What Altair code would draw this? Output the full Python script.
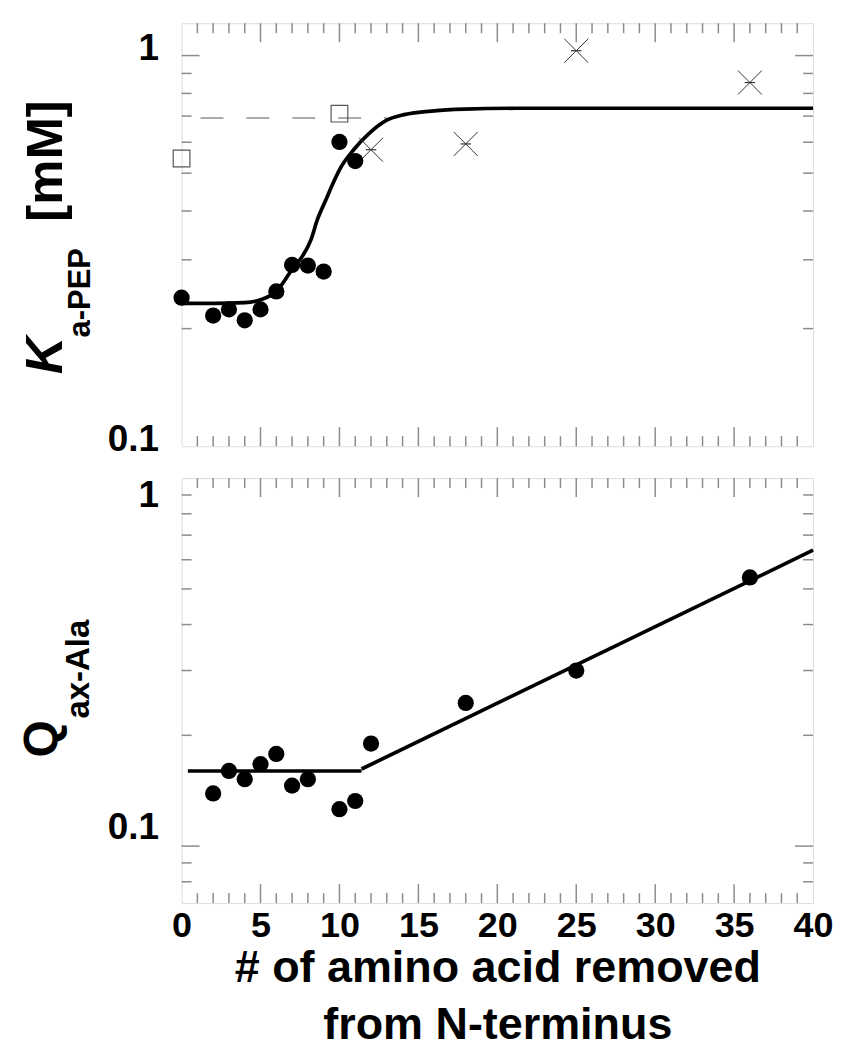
import altair as alt
import pandas as pd

# ---------------- data ----------------
x_major_ticks = [5, 10, 15, 20, 25, 30, 35]
x_minor_ticks = [v for v in range(1, 40) if v % 5 != 0]
x_label_values = [0, 5, 10, 15, 20, 25, 30, 35, 40]

top_major_y = [1.0]
top_minor_y = [0.2, 0.3, 0.4, 0.5, 0.6, 0.7, 0.8, 0.9]
bot_major_y = [0.1]
bot_minor_y = [0.08, 0.09, 0.2, 0.3, 0.4, 0.5, 0.6, 0.7, 0.8, 0.9]
y_label_values = [0.1, 1.0]

# top panel: K a-PEP
k_circle_x = [0, 2, 3, 4, 5, 6, 7, 8, 9, 10, 11]
k_circle_y = [0.240, 0.216, 0.224, 0.210, 0.224, 0.249, 0.291, 0.290, 0.280, 0.601, 0.537]
k_square_x = [0, 10]
k_square_y = [0.545, 0.710]
k_cross_x = [12, 18, 25, 36]
k_cross_y = [0.574, 0.594, 1.029, 0.853]
k_fit_x = [0, 2, 4, 5, 6, 7, 7.5, 8.2, 8.6, 9.15, 9.55, 10, 10.9, 11.9, 13, 14.1, 16, 17.9, 21.2, 40]
k_fit_y = [0.232, 0.232, 0.233, 0.237, 0.249, 0.283, 0.300, 0.338, 0.380, 0.428, 0.467, 0.510,
           0.574, 0.633, 0.683, 0.706, 0.722, 0.729, 0.733, 0.733]
k_dash_x = [1.2, 13.0]
k_dash_y = [0.692, 0.692]

# bottom panel: Q ax-Ala
q_x = [2, 3, 4, 5, 6, 7, 8, 10, 11, 12, 18, 25, 36]
q_y = [0.139, 0.160, 0.152, 0.167, 0.178, 0.146, 0.152, 0.126, 0.1326, 0.190, 0.245, 0.300, 0.537]
q_fit_seg = ["a", "a", "b", "b"]
q_fit_x = [0.4, 11.4, 11.4, 40]
q_fit_y = [0.160, 0.160, 0.162, 0.637]

top_title_parts = ["K", "a-PEP", "[mM]"]
bot_title_parts = ["Q", "ax-Ala"]
x_title = ["# of amino acid removed", "from N-terminus"]

# ---------------- layout / style ----------------
W = 633
H_TOP = 424
H_BOT = 426
FONT = "Liberation Sans"
FRAME = "#8c8c8c"
DOT = 265
LW = 3.7

xscale = alt.Scale(domain=[0, 40], nice=False, zero=False)
yscale_top = alt.Scale(type="log", domain=[0.1, 1.21], nice=False)
yscale_bot = alt.Scale(type="log", domain=[0.07, 1.0], nice=False)


def yaxis(offset):
    return alt.Axis(values=y_label_values, labelExpr="datum.value >= 1 ? '1' : '0.1'",
                    labelFont=FONT, labelFontSize=37, labelFontWeight="bold", labelColor="black",
                    labelPadding=23, labelOffset=offset, ticks=False, tickSize=0, domain=False,
                    grid=False, title=None)


xaxis_bot = alt.Axis(values=x_label_values, format="d", labelFont=FONT, labelFontSize=36,
                     labelFontWeight="bold", labelColor="black", labelPadding=5, labelFlush=False,
                     ticks=False, tickSize=0, domain=False, grid=False,
                     title=x_title, titleFont=FONT, titleFontSize=45, titleFontWeight="bold",
                     titleColor="black", titlePadding=3, titleLineHeight=57)

yaxis_top = yaxis(-7)
yaxis_bot = yaxis({"condition": {"test": "datum.value >= 1", "value": 17}, "value": -19})


def X(xaxis):
    return alt.X("x:Q", scale=xscale, axis=xaxis)


def Y(yscale, yax):
    return alt.Y("y:Q", scale=yscale, axis=yax)


def tick_layers(xaxis, yscale, yax, H, ymajor, yminor):
    layers = []
    for vals, ln in ((x_major_ticks, 19), (x_minor_ticks, 10)):
        d = pd.DataFrame({"x": vals})
        base = alt.Chart(d).mark_rule(color=FRAME, strokeWidth=1.5)
        layers.append(base.encode(x=X(xaxis), y=alt.value(0), y2=alt.value(ln)))
        layers.append(base.encode(x=X(xaxis), y=alt.value(H), y2=alt.value(H - ln)))
    for vals, ln in ((ymajor, 18), (yminor, 10)):
        d = pd.DataFrame({"y": vals})
        base = alt.Chart(d).mark_rule(color=FRAME, strokeWidth=1.5)
        layers.append(base.encode(y=Y(yscale, yax), x=alt.value(0), x2=alt.value(ln)))
        layers.append(base.encode(y=Y(yscale, yax), x=alt.value(W), x2=alt.value(W - ln)))
    return layers


def text_part(df, part, size, x, y, italic=False):
    kw = dict(font=FONT, fontSize=size, fontWeight="bold", angle=270,
              align="left", baseline="alphabetic", color="black")
    if italic:
        kw["fontStyle"] = "italic"
    return alt.Chart(df).transform_filter(alt.datum.t == part).mark_text(**kw).encode(
        text="t:N", x=alt.value(x), y=alt.value(y))


# ---------------- top panel ----------------
XT = X(None)
YT = Y(yscale_top, yaxis_top)

circ_top = alt.Chart(pd.DataFrame({"x": k_circle_x, "y": k_circle_y})).mark_point(
    shape="circle", filled=True, color="black", size=DOT, opacity=1
).encode(x=XT, y=YT)
fit_top = alt.Chart(pd.DataFrame({"x": k_fit_x, "y": k_fit_y})).mark_line(
    color="black", strokeWidth=LW, interpolate="monotone"
).encode(x=XT, y=YT)
dash_top = alt.Chart(pd.DataFrame({"x": k_dash_x, "y": k_dash_y})).mark_line(
    color="#555555", strokeWidth=1, strokeDash=[23, 23]
).encode(x=XT, y=YT)
sq_top = alt.Chart(pd.DataFrame({"x": k_square_x, "y": k_square_y})).mark_point(
    shape="square", filled=False, color="#555555", strokeWidth=1.2, size=280, opacity=1
).encode(x=XT, y=YT)
cross_df = pd.DataFrame({"x": k_cross_x, "y": k_cross_y})
x_top = alt.Chart(cross_df).mark_point(
    shape="M-1,-1L1,1M-1,1L1,-1", filled=False, color="#333333", strokeWidth=1, size=576, opacity=1
).encode(x=XT, y=YT)
xbar_top = alt.Chart(cross_df).mark_point(
    shape="M-1,0L1,0", filled=False, color="#333333", strokeWidth=1.2, size=110, opacity=1
).encode(x=XT, y=YT)

tt = pd.DataFrame({"t": top_title_parts})
top = alt.layer(
    *tick_layers(None, yscale_top, yaxis_top, H_TOP, top_major_y, top_minor_y),
    dash_top, fit_top, sq_top, x_top, xbar_top, circ_top,
    text_part(tt, "K", 52, -120, 352, italic=True),
    text_part(tt, "a-PEP", 31, -92, 315),
    text_part(tt, "[mM]", 51, -120, 199),
).properties(width=W, height=H_TOP)

# ---------------- bottom panel ----------------
XB = X(xaxis_bot)
YB = Y(yscale_bot, yaxis_bot)

circ_bot = alt.Chart(pd.DataFrame({"x": q_x, "y": q_y})).mark_point(
    shape="circle", filled=True, color="black", size=DOT, opacity=1
).encode(x=XB, y=YB)
fit_bot = alt.Chart(pd.DataFrame({"seg": q_fit_seg, "x": q_fit_x, "y": q_fit_y})).mark_line(
    color="black", strokeWidth=LW
).encode(x=XB, y=YB, detail="seg:N")

bt = pd.DataFrame({"t": bot_title_parts})
bottom = alt.layer(
    *tick_layers(xaxis_bot, yscale_bot, yaxis_bot, H_BOT, bot_major_y, bot_minor_y),
    fit_bot, circ_bot,
    text_part(bt, "Q", 48, -125, 280),
    text_part(bt, "ax-Ala", 33, -93, 241),
).properties(width=W, height=H_BOT)

chart = alt.vconcat(top, bottom, spacing=17).properties(
    padding={"left": 10, "top": 12, "right": 0, "bottom": 0},
    background="white",
).configure_view(stroke=FRAME, strokeWidth=1.5).configure(font=FONT)

chart.save("out.html", embed_options={"renderer": "svg", "actions": False})
